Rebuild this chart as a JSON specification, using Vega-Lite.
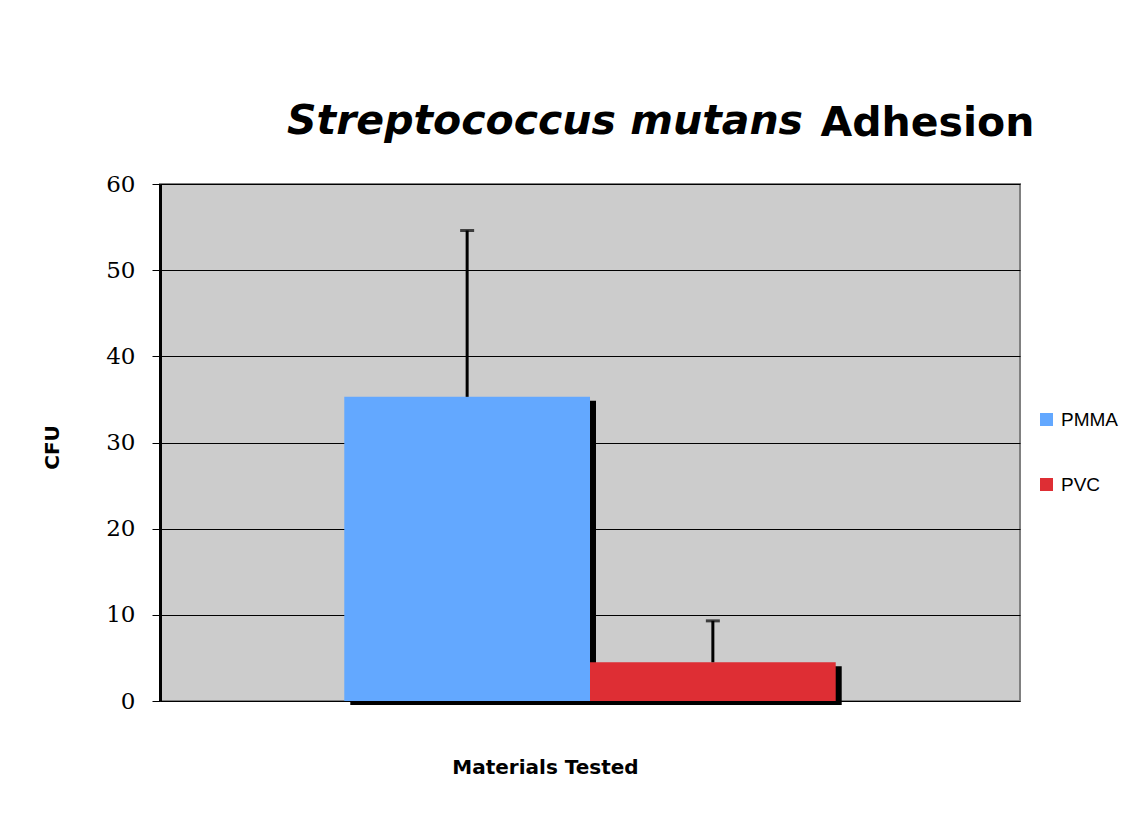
{
  "$schema": "https://vega.github.io/schema/vega-lite/v6.json",
  "width": 860,
  "height": 517,
  "autosize": {"type": "none"},
  "padding": {"left": 160, "top": 184, "right": 123, "bottom": 130},
  "background": "white",
  "title": {
    "text": "Streptococcus mutans",
    "anchor": "start",
    "frame": "group",
    "dx": 127,
    "offset": 0,
    "dy": 73,
    "font": "DejaVu Sans",
    "fontSize": 41,
    "fontWeight": "bold",
    "fontStyle": "italic",
    "color": "black",
    "baseline": "alphabetic"
  },
  "data": {
    "values": [
      {"Material": "PMMA", "CFU": 35.3, "Upper": 54.6},
      {"Material": "PVC", "CFU": 4.5, "Upper": 9.3}
    ]
  },
  "config": {
    "view": {"fill": "#CCCCCC", "stroke": "#808080", "strokeWidth": 2}
  },
  "resolve": {"axis": {"x": "independent"}},
  "layer": [
    {
      "mark": {"type": "bar", "color": "black", "xOffset": 6, "yOffset": 4},
      "encoding": {
        "x": {
          "field": "Material", "type": "nominal",
          "scale": {"domain": ["PMMA", "PVC"], "paddingInner": 0, "paddingOuter": 0.75},
          "axis": {
            "labels": false, "ticks": false, "domain": false, "grid": false,
            "title": "Materials Tested",
            "titleFont": "DejaVu Sans", "titleFontSize": 20, "titleFontWeight": "bold",
            "titleColor": "black",
            "titleX": 385, "titleY": 72, "titleBaseline": "alphabetic", "titleAlign": "center"
          }
        },
        "y": {
          "field": "CFU", "type": "quantitative",
          "scale": {"domain": [0, 60]},
          "axis": {
            "values": [0, 10, 20, 30, 40, 50, 60],
            "title": "CFU",
            "titleFont": "DejaVu Sans", "titleFontSize": 20, "titleFontWeight": "bold",
            "titleColor": "black",
            "titleAngle": 270, "titleX": -108, "titleY": 263,
            "titleAlign": "center", "titleBaseline": "middle",
            "labelFont": "DejaVu Serif", "labelFontSize": 23, "labelColor": "black",
            "labelPadding": 17,
            "tickColor": "black", "tickSize": 8, "tickWidth": 1,
            "domainColor": "black", "domainWidth": 3,
            "grid": true, "gridColor": "black", "gridWidth": 1, "gridOpacity": 1
          }
        }
      }
    },
    {
      "mark": {"type": "bar"},
      "encoding": {
        "x": {
          "field": "Material", "type": "nominal",
          "axis": {"orient": "bottom", "labels": false, "ticks": false, "domain": false, "grid": false, "title": null}
        },
        "y": {"field": "CFU", "type": "quantitative"},
        "color": {
          "field": "Material", "type": "nominal",
          "scale": {"domain": ["PMMA", "PVC"], "range": ["#63A8FF", "#DE2E34"]},
          "legend": {
            "title": null,
            "orient": "none",
            "legendX": 877,
            "legendY": 226,
            "symbolType": "square",
            "symbolSize": 169,
            "symbolStrokeWidth": 0,
            "symbolOpacity": 1,
            "labelFont": "Liberation Sans",
            "labelFontSize": 19,
            "labelColor": "black",
            "labelOffset": 5,
            "rowPadding": 45
          }
        }
      }
    },
    {
      "mark": {"type": "rule", "color": "black", "strokeWidth": 3},
      "encoding": {
        "x": {
          "field": "Material", "type": "nominal",
          "axis": {
            "orient": "top", "labels": false, "ticks": false, "domain": false, "grid": false,
            "title": "Adhesion",
            "titleFont": "DejaVu Sans", "titleFontSize": 41, "titleFontWeight": "bold",
            "titleColor": "black",
            "titleX": 660, "titleY": -49, "titleBaseline": "alphabetic", "titleAlign": "left"
          }
        },
        "y": {"field": "CFU", "type": "quantitative"},
        "y2": {"field": "Upper"}
      }
    },
    {
      "mark": {"type": "tick", "color": "black", "thickness": 3, "size": 14, "orient": "horizontal"},
      "encoding": {
        "x": {
          "field": "Material", "type": "nominal",
          "axis": {"orient": "bottom", "labels": false, "ticks": false, "domain": false, "grid": false, "title": null}
        },
        "y": {"field": "Upper", "type": "quantitative"}
      }
    }
  ]
}
